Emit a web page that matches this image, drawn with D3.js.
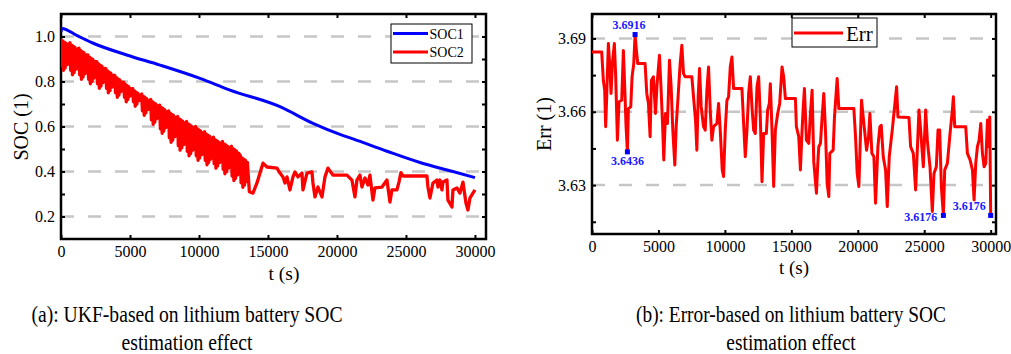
<!DOCTYPE html>
<html>
<head>
<meta charset="utf-8">
<script src="https://cdn.jsdelivr.net/npm/d3@7"></script>
<style>
  html, body { margin: 0; padding: 0; background: #fff; }
  svg { display: block; font-family: "Liberation Serif", "Times New Roman", serif; }
</style>
</head>
<body>
<svg id="chart" width="1011" height="354"></svg>
<script>
// ---- data ----
const timeTicks = [0, 5000, 10000, 15000, 20000, 25000, 30000];
const socTicks = [0.2, 0.4, 0.6, 0.8, 1.0];
const socMinorTicks = [0.2, 0.3, 0.4, 0.5, 0.6, 0.7, 0.8, 0.9, 1.0];
const errTicks = [3.63, 3.66, 3.69];
const errMinorTicks = [3.615, 3.63, 3.645, 3.66, 3.675, 3.69];

// SOC1 (blue), [t, soc]
const soc1 = [[0, 1.02], [60, 1.036], [1138, 1.005], [2340, 0.97], [4760, 0.918], [7173, 0.873],
  [10072, 0.814], [12246, 0.762], [15869, 0.688], [18260, 0.614], [20217, 0.565], [21159, 0.545],
  [23622, 0.49], [26013, 0.44], [28404, 0.4], [30000, 0.373]];

// SOC2 (red), [t, soc]
const soc2 = [
  [0, .99], [60, .87], [120, .98], [180, .85], [240, .975], [300, .86], [360, .97], [450, .875], [510, .96],
  [650, .972], [700, .85], [770, .962], [830, .83], [890, .957], [950, .84], [1010, .952], [1100, .855], [1160, .942],
  [1300, .948], [1350, .83], [1420, .938], [1480, .81], [1540, .933], [1600, .82], [1660, .928], [1750, .835], [1810, .918],
  [1950, .918], [2000, .81], [2070, .908], [2130, .79], [2190, .903], [2250, .80], [2310, .898], [2400, .815], [2460, .888],
  [2600, .888], [2650, .79], [2720, .878], [2780, .77], [2840, .873], [2900, .78], [2960, .868], [3050, .795], [3110, .858],
  [3250, .857], [3300, .77], [3370, .847], [3430, .75], [3490, .842], [3550, .76], [3610, .837], [3700, .775], [3760, .827],
  [3900, .827], [3950, .75], [4020, .817], [4080, .73], [4140, .812], [4200, .74], [4260, .807], [4350, .755], [4410, .797],
  [4550, .797], [4600, .73], [4670, .787], [4730, .71], [4790, .782], [4850, .72], [4910, .777], [5000, .735], [5060, .767],
  [5200, .768], [5250, .71], [5320, .758], [5380, .69], [5440, .753], [5500, .70], [5560, .748], [5650, .715], [5710, .738],
  [5850, .744], [5900, .67], [5970, .734], [6030, .65], [6090, .729], [6150, .66], [6210, .724], [6300, .675], [6360, .714],
  [6500, .72], [6550, .63], [6620, .71], [6680, .61], [6740, .705], [6800, .62], [6860, .70], [6950, .635], [7010, .69],
  [7150, .695], [7200, .59], [7270, .685], [7330, .57], [7390, .68], [7450, .58], [7510, .675], [7600, .595], [7660, .665],
  [7800, .669], [7850, .55], [7920, .659], [7980, .53], [8040, .654], [8100, .54], [8160, .649], [8250, .555], [8310, .639],
  [8450, .644], [8500, .515], [8570, .634], [8630, .495], [8690, .629], [8750, .505], [8810, .624], [8900, .52], [8960, .614],
  [9100, .622], [9150, .49], [9220, .612], [9280, .47], [9340, .607], [9400, .48], [9460, .602], [9550, .495], [9610, .592],
  [9750, .60], [9800, .47], [9870, .59], [9930, .45], [9990, .585], [10050, .46], [10110, .58], [10200, .475], [10260, .57],
  [10400, .577], [10450, .45], [10520, .567], [10580, .43], [10640, .562], [10700, .44], [10760, .557], [10850, .455], [10910, .547],
  [11050, .552], [11100, .435], [11170, .542], [11230, .415], [11290, .537], [11350, .425], [11410, .532], [11500, .44], [11560, .522],
  [11700, .533], [11750, .41], [11820, .523], [11880, .39], [11940, .518], [12000, .40], [12060, .513], [12150, .415], [12210, .503],
  [12350, .512], [12400, .38], [12470, .502], [12530, .36], [12590, .497], [12650, .37], [12710, .492], [12800, .385], [12860, .482],
  [13000, .47], [13050, .35], [13120, .46], [13180, .33], [13240, .455], [13300, .34], [13360, .45], [13450, .355], [13510, .44],
  [13650, .31], [13913, .304], [14203, .349], [14420, .393], [14637, .437], [14927, .42], [15651, .415],
  [15869, .393], [16086, .376], [16231, .349], [16376, .376], [16593, .318], [16810, .376], [16955, .398],
  [17173, .376], [17463, .393], [17535, .318], [17825, .393], [18187, .398], [18260, .349], [18405, .287],
  [18622, .331], [18912, .287], [19130, .376], [19347, .415], [19709, .384], [20724, .384], [21086, .362],
  [21303, .287], [21448, .362], [21666, .384], [21810, .331], [22028, .371], [22245, .34], [22390, .384],
  [22607, .273], [22752, .327], [23260, .331], [23622, .362], [23839, .264], [23984, .318], [24346, .318],
  [24491, .353], [24636, .395], [24781, .38], [26520, .38], [26593, .331], [26738, .282], [26955, .349],
  [27245, .362], [27317, .331], [27462, .362], [27607, .318], [27680, .353], [27970, .362], [28042, .273],
  [28332, .242], [28405, .318], [28694, .327], [28912, .304], [29129, .353], [29347, .26], [29492, .229],
  [29637, .282], [29854, .304], [30000, .318]];

// Err (red), [t, err]
const err = [
  [0, 3.6845], [729, 3.6845], [854, 3.6729], [955, 3.6688], [1030, 3.6539], [1106, 3.6661], [1231, 3.6879],
  [1357, 3.6770], [1432, 3.6675], [1533, 3.6797], [1683, 3.6879], [1784, 3.6743], [1910, 3.6484], [2035, 3.6641],
  [2236, 3.6647], [2362, 3.6851], [2488, 3.6661], [2563, 3.6539], [2664, 3.6436], [2739, 3.6613], [2915, 3.6620],
  [3015, 3.6743], [3141, 3.6797], [3242, 3.6916], [3342, 3.6851], [3443, 3.6797], [3995, 3.6797], [4121, 3.6675],
  [4247, 3.6634], [4372, 3.6498], [4473, 3.6729], [4624, 3.6743], [4774, 3.6593], [4900, 3.6715], [5076, 3.6831],
  [5202, 3.6688], [5327, 3.6525], [5403, 3.6403], [5528, 3.6593], [5679, 3.6552], [5830, 3.6811], [5956, 3.6702],
  [6081, 3.6525], [6232, 3.6382], [6333, 3.6539], [6508, 3.6688], [6634, 3.6797], [6760, 3.6872], [6885, 3.6756],
  [7011, 3.6743], [7514, 3.6743], [7639, 3.6661], [7790, 3.6566], [7891, 3.6443], [7991, 3.6661], [8092, 3.6777],
  [8217, 3.6620], [8393, 3.6539], [8519, 3.6525], [8645, 3.6688], [8770, 3.6783], [8896, 3.6607], [9021, 3.6484],
  [9147, 3.6539], [9398, 3.6552], [9524, 3.6634], [9650, 3.6525], [9800, 3.6362], [9901, 3.6335], [10027, 3.6525],
  [10152, 3.6647], [10278, 3.6661], [10404, 3.6783], [10529, 3.6824], [10655, 3.6695], [11283, 3.6695], [11409, 3.6552],
  [11534, 3.6416], [11660, 3.6525], [11786, 3.6675], [11911, 3.6743], [12037, 3.6620], [12163, 3.6525], [12288, 3.6511],
  [12414, 3.6702], [12540, 3.6743], [12665, 3.6579], [12791, 3.6314], [12917, 3.6511], [13118, 3.6511], [13218, 3.6607],
  [13344, 3.6634], [13419, 3.6715], [13545, 3.6525], [13671, 3.6294], [13796, 3.6525], [13972, 3.6593], [14123, 3.6634],
  [14299, 3.6783], [14424, 3.6743], [14550, 3.6654], [15306, 3.6654], [15381, 3.6539], [15557, 3.6498], [15683, 3.6362],
  [15809, 3.6525], [15884, 3.6607], [15984, 3.6695], [16135, 3.6484], [16311, 3.6471], [16437, 3.6593], [16562, 3.6688],
  [16688, 3.6396], [16889, 3.6267], [16990, 3.6389], [17065, 3.6457], [17191, 3.6471], [17316, 3.6579], [17442, 3.6675],
  [17568, 3.6525], [17693, 3.6307], [17819, 3.6253], [17894, 3.6430], [18146, 3.6443], [18246, 3.6579], [18447, 3.6736],
  [18573, 3.6613], [19704, 3.6613], [19829, 3.6498], [19955, 3.6348], [20081, 3.6294], [20282, 3.6647], [20508, 3.6525],
  [20659, 3.6443], [20810, 3.6498], [20910, 3.6593], [21061, 3.6430], [21212, 3.6416], [21337, 3.6226], [21513, 3.6457],
  [21664, 3.6539], [21764, 3.6545], [21915, 3.6416], [22091, 3.6362], [22217, 3.6212], [22367, 3.6416], [22593, 3.6525],
  [22719, 3.6593], [22920, 3.6702], [23021, 3.6579], [23850, 3.6577], [23976, 3.6457], [24177, 3.6430], [24353, 3.6280],
  [24478, 3.6443], [24604, 3.6607], [24730, 3.6525], [24931, 3.6375], [25107, 3.6607], [25232, 3.6484], [25433, 3.6375],
  [25609, 3.6192], [25735, 3.6348], [25911, 3.6375], [26036, 3.6525], [26162, 3.6525], [26288, 3.6294], [26440, 3.6176],
  [26540, 3.6362], [26740, 3.6389], [26941, 3.6511], [27117, 3.6607], [27192, 3.6661], [27293, 3.6539], [28122, 3.6539],
  [28248, 3.6430], [28449, 3.6403], [28625, 3.6362], [28751, 3.6239], [28876, 3.6389], [29002, 3.6457], [29128, 3.6484],
  [29253, 3.6552], [29379, 3.6430], [29504, 3.6375], [29630, 3.6389], [29756, 3.6566], [29855, 3.6457], [29930, 3.6579],
  [30000, 3.6176]];

// labelled extreme points on the Err curve
const errMarks = [[3242, 3.6916], [2664, 3.6436], [26440, 3.6176], [30000, 3.6176]];
const errMarkLabels = ["3.6916", "3.6436", "3.6176", "3.6176"];

const captions = [
  ["(a): UKF-based on lithium battery SOC", "estimation effect"],
  ["(b): Error-based on lithium battery SOC", "estimation effect"]
];

// ---- drawing ----
const svg = d3.select("#chart");
const FONT = '"Liberation Serif", "Times New Roman", serif';

const boxA = { left: 61, right: 486, top: 14, bottom: 239 };
const boxB = { left: 592, right: 996, top: 14, bottom: 234 };

const xA = d3.scaleLinear().domain([0, 30800]).range([boxA.left, boxA.right]);
const yA = d3.scaleLinear().domain([0.1, 1.1]).range([boxA.bottom, boxA.top]);
const xB = d3.scaleLinear().domain([0, 30400]).range([boxB.left, boxB.right]);
const yB = d3.scaleLinear().domain([3.61, 3.70]).range([boxB.bottom, boxB.top]);

function grid(box, y, ticks) {
  svg.append("g").selectAll("line").data(ticks).join("line")
    .attr("x1", box.left).attr("x2", box.right)
    .attr("y1", d => y(d)).attr("y2", d => y(d))
    .attr("stroke", "#c6c6c6").attr("stroke-width", 2.5)
    .attr("stroke-dasharray", "13,14");
}

function styleAxis(g) {
  g.select(".domain").remove();
  g.selectAll(".tick line").attr("stroke", "#000").attr("stroke-width", 2);
  g.selectAll("text").attr("font-family", FONT).attr("font-size", 16).attr("fill", "#000");
}

function frame(box, x, y, yLabelTicks, yMinor, yFmt, id) {
  svg.append("g").attr("transform", `translate(0,${box.bottom})`)
    .call(d3.axisBottom(x).tickValues(timeTicks).tickSize(-4).tickSizeOuter(0).tickPadding(6.6).tickFormat(d3.format("d")))
    .call(styleAxis);
  svg.append("g").attr("transform", `translate(0,${box.top})`)
    .call(d3.axisTop(x).tickValues(timeTicks).tickSize(-4).tickSizeOuter(0).tickFormat(""))
    .call(styleAxis);
  svg.append("g").attr("transform", `translate(${box.left},0)`)
    .call(d3.axisLeft(y).tickValues(yMinor).tickSize(-4).tickSizeOuter(0).tickFormat(""))
    .call(styleAxis);
  svg.append("g").attr("transform", `translate(${box.left},0)`)
    .call(d3.axisLeft(y).tickValues(yLabelTicks).tickSize(0).tickSizeOuter(0).tickPadding(6).tickFormat(d3.format(yFmt)))
    .call(styleAxis);
  svg.append("g").attr("transform", `translate(${box.right},0)`)
    .call(d3.axisRight(y).tickValues(yMinor).tickSize(-4).tickSizeOuter(0).tickFormat(""))
    .call(styleAxis);
  svg.append("rect")
    .attr("x", box.left).attr("y", box.top)
    .attr("width", box.right - box.left).attr("height", box.bottom - box.top)
    .attr("fill", "none").attr("stroke", "#000").attr("stroke-width", 2.5);
  svg.append("clipPath").attr("id", id).append("rect")
    .attr("x", box.left).attr("y", box.top)
    .attr("width", box.right - box.left).attr("height", box.bottom - box.top);
}

function series(data, x, y, color, clip, curve, width) {
  svg.append("path").datum(data)
    .attr("clip-path", `url(#${clip})`)
    .attr("fill", "none").attr("stroke", color).attr("stroke-width", width || 3)
    .attr("stroke-linejoin", "round")
    .attr("d", d3.line().x(d => x(d[0])).y(d => y(d[1])).curve(curve || d3.curveLinear));
}

// panel (a)
grid(boxA, yA, socTicks);
frame(boxA, xA, yA, socTicks, socMinorTicks, ".1f", "clipA");
series(soc1, xA, yA, "#0000ff", "clipA", d3.curveMonotoneX);
series(soc2, xA, yA, "#ff0000", "clipA", d3.curveLinear, 3.3);

// legend (a)
const legA = svg.append("g");
legA.append("rect").attr("x", 391).attr("y", 24).attr("width", 81).attr("height", 39)
  .attr("fill", "#fff").attr("stroke", "#000").attr("stroke-width", 1);
[["SOC1", "#0000ff", 33.5], ["SOC2", "#ff0000", 52]].forEach(([name, c, ly]) => {
  legA.append("line").attr("x1", 393).attr("x2", 428).attr("y1", ly).attr("y2", ly)
    .attr("stroke", c).attr("stroke-width", 3);
  legA.append("text").attr("x", 429.5).attr("y", ly + 5).text(name)
    .attr("font-family", FONT).attr("font-size", 14);
});

svg.append("text").attr("transform", "translate(28,127) rotate(-90)")
  .attr("text-anchor", "middle").attr("font-family", FONT).attr("font-size", 20).text("SOC (1)");
svg.append("text").attr("x", 284).attr("y", 279.5)
  .attr("text-anchor", "middle").attr("font-family", FONT).attr("font-size", 19.5).text("t (s)");

// panel (b)
grid(boxB, yB, errTicks);
frame(boxB, xB, yB, errTicks, errMinorTicks, ".2f", "clipB");
series(err, xB, yB, "#ff0000", "clipB");

svg.append("g").selectAll("rect").data(errMarks).join("rect")
  .attr("x", d => xB(d[0]) - 2.5).attr("y", d => yB(d[1]) - 2.5)
  .attr("width", 5).attr("height", 5).attr("fill", "#0000ff");

const markOffsets = [[-6, -6, "middle"], [0, 13, "middle"], [-6, 6, "end"], [-5, -5, "end"]];
svg.append("g").selectAll("text").data(errMarks).join("text")
  .attr("x", (d, i) => xB(d[0]) + markOffsets[i][0])
  .attr("y", (d, i) => yB(d[1]) + markOffsets[i][1])
  .attr("text-anchor", (d, i) => markOffsets[i][2])
  .attr("font-family", FONT).attr("font-size", 12).attr("font-weight", "bold")
  .attr("fill", "#1a1aff")
  .text((d, i) => errMarkLabels[i]);

const legB = svg.append("g");
legB.append("rect").attr("x", 792).attr("y", 18).attr("width", 85).attr("height", 29)
  .attr("fill", "#fff").attr("stroke", "#000").attr("stroke-width", 1);
legB.append("line").attr("x1", 794).attr("x2", 843).attr("y1", 33).attr("y2", 33)
  .attr("stroke", "#ff0000").attr("stroke-width", 3);
legB.append("text").attr("x", 846).attr("y", 40.5).text("Err")
  .attr("font-family", FONT).attr("font-size", 21);

svg.append("text").attr("transform", "translate(551,124) rotate(-90)")
  .attr("text-anchor", "middle").attr("font-family", FONT).attr("font-size", 20).text("Err (1)");
svg.append("text").attr("x", 794).attr("y", 273.5)
  .attr("text-anchor", "middle").attr("font-family", FONT).attr("font-size", 19).text("t (s)");

// captions: first line squeezed to its measured width, second line by the same factor
const capX = [187, 791];
const capFirstWidth = [311, 310];
captions.forEach((lines, i) => {
  let factor = 1;
  lines.forEach((line, j) => {
    const t = svg.append("text").attr("x", capX[i]).attr("y", 322 + j * 28)
      .attr("text-anchor", "middle").attr("font-family", FONT).attr("font-size", 23)
      .text(line);
    const w = t.node().getComputedTextLength();
    if (j === 0) factor = capFirstWidth[i] / w;
    t.attr("textLength", w * factor).attr("lengthAdjust", "spacingAndGlyphs");
  });
});
</script>
</body>
</html>
